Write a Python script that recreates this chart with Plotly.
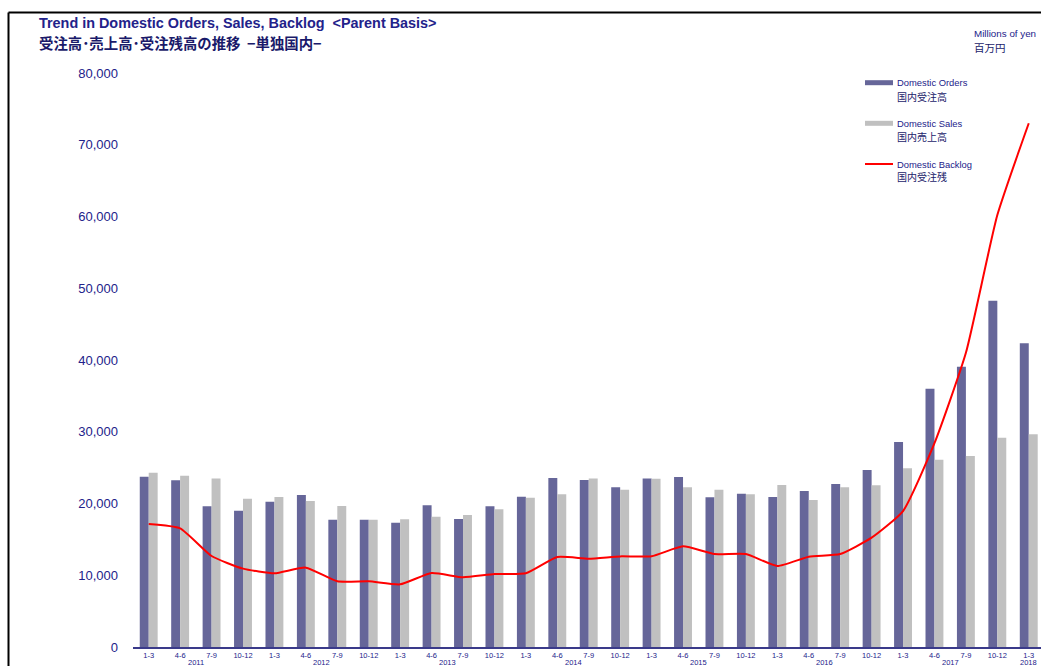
import plotly.graph_objects as go

# Quarterly figures, millions of yen (2011 Q1 – 2018 Q1)
quarters = ["1-3", "4-6", "7-9", "10-12"] * 7 + ["1-3"]
years = ["2011", "2012", "2013", "2014", "2015", "2016", "2017", "2018"]

domestic_orders = [
    23740, 23230, 19600, 19000,
    20250, 21180, 17750, 17750,
    17330, 19740, 17840, 19600,
    20950, 23550, 23270, 22250,
    23500, 23690, 20860, 21350,
    20900, 21740, 22720, 24670,
    28570, 36000, 39070, 48270,
    42320,
]
domestic_sales = [
    24290, 23880, 23500, 20670,
    20900, 20350, 19650, 17750,
    17790, 18170, 18400, 19190,
    20810, 21280, 23500, 21930,
    23460, 22250, 21930, 21290,
    22580, 20490, 22250, 22530,
    24900, 26110, 26620, 29170,
    29640,
]
domestic_backlog = [
    17140, 16540, 12680, 10920,
    10270, 11060, 9150, 9150,
    8730, 10310, 9710, 10170,
    10270, 12540, 12310, 12630,
    12640, 14030, 12960, 12960,
    11290, 12590, 12960, 15240,
    18950, 28400, 41000, 60200,
    73000,
]

NAVY = "#22228a"
ORDERS = "#666699"
SALES = "#c0c0c0"
BACKLOG = "#ff0000"
LATIN = "Liberation Sans, Arial, sans-serif"
CJK = "Noto Sans CJK JP, sans-serif"

W, H = 1041, 666
L, R, T, B = 133, 0, 73, 19
PW, PH = W - L - R, H - T - B


def px(x):
    """Horizontal page pixel -> paper coordinate."""
    return (x - L) / PW


def py(y):
    """Vertical page pixel -> paper coordinate."""
    return (H - B - y) / PH


idx = list(range(len(quarters)))

fig = go.Figure()
fig.add_bar(x=idx, y=domestic_orders, name="Domestic Orders",
            marker=dict(color=ORDERS, line=dict(width=0)))
fig.add_bar(x=idx, y=domestic_sales, name="Domestic Sales",
            marker=dict(color=SALES, line=dict(width=0)))
fig.add_scatter(x=idx, y=domestic_backlog, name="Domestic Backlog",
                mode="lines", line=dict(color=BACKLOG, width=2, shape="spline", smoothing=0.5))

annotations = []
shapes = []

# Titles
annotations.append(dict(
    text="<b>Trend in Domestic Orders, Sales, Backlog \u00a0&lt;Parent Basis&gt;</b>",
    xref="paper", yref="paper", x=px(37), y=py(23.5), xanchor="left", yanchor="middle",
    showarrow=False, font=dict(family=LATIN, size=14.4, color=NAVY)))
annotations.append(dict(
    text="<b>受注高･売上高･受注残高の推移 \u00a0−単独国内−</b>",
    xref="paper", yref="paper", x=px(37), y=py(42.5), xanchor="left", yanchor="middle",
    showarrow=False, font=dict(family=CJK, size=14.4, color="#1a1a6a")))

# Unit note
annotations.append(dict(
    text="Millions of yen", xref="paper", yref="paper", x=px(972), y=py(33.5),
    xanchor="left", yanchor="middle", showarrow=False,
    font=dict(family=LATIN, size=9.8, color=NAVY)))
annotations.append(dict(
    text="百万円", xref="paper", yref="paper", x=px(972), y=py(47.5),
    xanchor="left", yanchor="middle", showarrow=False,
    font=dict(family=CJK, size=10.5, color="#1a1a6a")))

# Hand-placed legend
legend_rows = [
    ("Domestic Orders", "国内受注高", ORDERS, 82.7, 96.5, 5),
    ("Domestic Sales", "国内売上高", SALES, 123.3, 136.7, 5),
    ("Domestic Backlog", "国内受注残", BACKLOG, 164, 176.7, 2),
]
for en, ja, col, y1, y2, thick in legend_rows:
    shapes.append(dict(type="line", xref="paper", yref="paper",
                       x0=px(865), x1=px(893), y0=py(y1), y1=py(y1),
                       line=dict(color=col, width=thick)))
    annotations.append(dict(
        text=en, xref="paper", yref="paper", x=px(895), y=py(y1),
        xanchor="left", yanchor="middle", showarrow=False,
        font=dict(family=LATIN, size=9.4, color=NAVY)))
    annotations.append(dict(
        text=ja, xref="paper", yref="paper", x=px(895), y=py(y2),
        xanchor="left", yanchor="middle", showarrow=False,
        font=dict(family=CJK, size=10, color="#1a1a6a")))

# Year labels under each group of quarters
year_pos = [1.5 + 4 * i for i in range(7)] + [28]
for yr, xp in zip(years, year_pos):
    annotations.append(dict(
        text=yr, xref="x", yref="paper", x=xp, y=py(662.5),
        xanchor="center", yanchor="middle", showarrow=False,
        font=dict(family=LATIN, size=7.5, color=NAVY)))

# Outer frame (top and left edges)
shapes.append(dict(type="line", xref="paper", yref="paper",
                   x0=px(8.5), x1=px(1045), y0=py(12.5), y1=py(12.5),
                   line=dict(color="black", width=2)))
shapes.append(dict(type="line", xref="paper", yref="paper",
                   x0=px(8.5), x1=px(8.5), y0=py(12.5), y1=py(670),
                   line=dict(color="black", width=2)))

fig.update_layout(
    width=W, height=H,
    margin=dict(l=L, r=R, t=T, b=B, pad=0),
    paper_bgcolor="white", plot_bgcolor="white",
    barmode="group", bargap=0.43, bargroupgap=0,
    showlegend=False,
    annotations=annotations, shapes=shapes,
    xaxis=dict(
        range=[-0.5, -0.5 + PW / 31.43],
        tickmode="array", tickvals=idx, ticktext=quarters,
        tickfont=dict(family=LATIN, size=7.5, color=NAVY),
        tickangle=0,
        showline=True, linecolor="#3a3a8a", linewidth=1.5,
        showgrid=False, zeroline=False, ticks="",
    ),
    yaxis=dict(
        range=[0, 80000], dtick=10000, tickformat=",d",
        tickfont=dict(family=LATIN, size=13, color=NAVY),
        showgrid=False, zeroline=False, showline=False, ticks="",
        ticklabelstandoff=14,
    ),
)

fig.write_html("out.html")
